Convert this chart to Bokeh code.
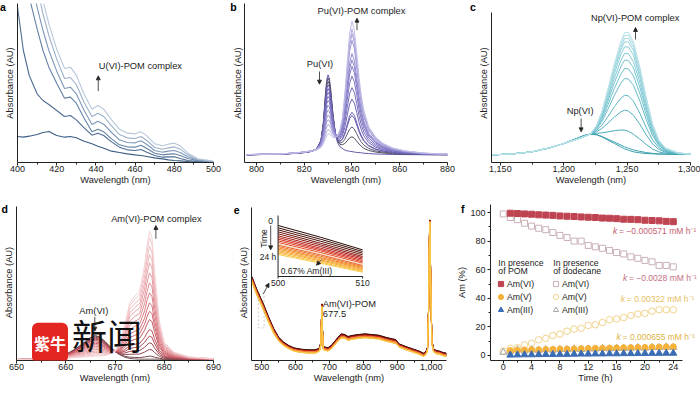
import numpy as np
from bokeh.plotting import figure
from bokeh.layouts import row, column
from bokeh.models import (Label, Arrow, NormalHead, FixedTicker, NumeralTickFormatter,
                          Range1d, BoxAnnotation, Legend, LegendItem)
from bokeh.embed import file_html
from bokeh.resources import INLINE

FONT = "Liberation Sans"
AX = "#222222"
TXT = "9.3px"

# ---------------- panel a : U(VI) ----------------
a_wavelength = [400, 403, 406, 410, 413, 416, 420, 424, 427, 430, 434, 438, 441, 444,
                448, 452, 456, 460, 463, 466, 470, 474, 477, 480, 483, 487, 492, 500]
a_spectra = [
    [78, 76, 79, 84, 90, 93, 81, 76, 78, 74, 64, 56, 49, 43, 34, 30, 26, 23, 21, 18, 14, 11, 8, 6, 5, 3, 2, 1],
    [466, 336, 261, 206, 186, 174, 156, 138, 141, 128, 104, 82, 88, 81, 62, 46, 38, 36, 39, 31, 21, 16, 17, 17, 12, 6, 3, 1],
    [726, 596, 496, 401, 336, 286, 238, 193, 196, 178, 133, 92, 100, 92, 71, 53, 47, 46, 52, 42, 28, 23, 25, 26, 21, 12, 5, 1],
    [826, 696, 586, 466, 396, 336, 274, 222, 226, 206, 156, 114, 124, 115, 90, 68, 60, 59, 65, 54, 36, 31, 34, 36, 30, 17, 7, 2],
    [916, 786, 666, 526, 446, 381, 310, 252, 255, 234, 180, 138, 148, 138, 110, 84, 74, 72, 78, 66, 45, 40, 44, 47, 40, 23, 9, 3],
    [1006, 866, 736, 576, 486, 416, 340, 282, 286, 262, 205, 160, 171, 160, 128, 100, 88, 86, 92, 80, 56, 50, 55, 58, 50, 28, 11, 4],
]
a_colors = ["#3e5d85", "#4e6c93", "#6481a6", "#7d97b8", "#9bb0c9", "#b8c8da"]
a_ticks = [400, 420, 440, 460, 480, 500]
a_minor = [410, 430, 450, 470, 490]

# ---------------- panel b : Pu(VI) ----------------
b_wavelength = [796, 805, 812, 818, 822, 825, 827, 828, 829, 829.5, 830, 830.5, 831, 832, 833, 834,
                835, 836, 837, 838, 839, 840, 841, 842, 843, 844, 845, 847, 850, 853, 857, 862, 870, 880]
b_pu6_band = [0, 0.005, 0.01, 0.02, 0.035, 0.06, 0.18, 0.4, 0.8, 0.95, 1.0, 0.96, 0.85, 0.52, 0.27, 0.15,
              0.1, 0.08, 0.06, 0.05, 0.045, 0.04, 0.035, 0.03, 0.028, 0.025, 0.02, 0.016, 0.01, 0.008,
              0.005, 0.003, 0.001, 0]
b_complex_band = [0.002, 0.005, 0.008, 0.015, 0.022, 0.03, 0.037, 0.042, 0.048, 0.052, 0.056, 0.06, 0.065,
                  0.078, 0.1, 0.13, 0.18, 0.27, 0.45, 0.68, 0.9, 1.0, 0.93, 0.76, 0.57, 0.43, 0.33, 0.21,
                  0.13, 0.085, 0.052, 0.03, 0.013, 0.005]
b_pu6_heights = [240, 228, 216, 204, 192, 178, 164, 150, 134, 118, 102, 86, 70, 54, 40]
b_complex_heights = [0, 45, 75, 110, 120, 160, 195, 230, 260, 280, 300, 340, 360, 375, 400]
b_baseline = 23
b_colors = ["#6459ad", "#4f4f60", "#5a5870", "#665db0", "#6b61b4", "#7066b8", "#766cbc", "#7c73c1",
            "#837bc6", "#8b84cb", "#948dd0", "#9d97d4", "#a8a3da", "#b4b0e0", "#c1bee7"]
b_ticks = [800, 820, 840, 860, 880]
b_minor = [810, 830, 850, 870]

# ---------------- panel c : Np(VI) ----------------
c_wavelength = [1143, 1150, 1160, 1175, 1190, 1200, 1210, 1216, 1221, 1226, 1230, 1235, 1240, 1245,
                1248, 1251, 1255, 1260, 1265, 1270, 1275, 1280, 1290, 1300]
c_first = [23, 24, 26, 32, 45, 57, 72, 81, 85, 83, 77, 67, 57, 47, 41, 37, 32, 29, 27, 26, 25, 25, 24, 24]
c_last = [23, 24, 26, 32, 45, 57, 69, 77, 85, 112, 152, 222, 297, 362, 390, 390, 362, 287, 197, 117, 67, 44, 29, 25]
c_peak_heights = [41, 47, 97, 157, 202, 252, 282, 307, 327, 347, 362, 372, 382, 390]
c_colors = ["#3a9cac", "#41a2b2", "#49a8b8", "#52aebd", "#5bb4c2", "#64b9c7", "#6ebfcc", "#78c4d0",
            "#82c9d4", "#8cced8", "#97d3dc", "#a2d8e0", "#addde4", "#b8e2e8"]
c_ticks = [1150, 1200, 1250, 1300]
c_minor = [1175, 1225, 1275]

# ---------------- panel d : Am(VI) ----------------
d_wavelength = [650, 655, 658, 660, 662, 664, 665, 666, 667, 668, 669, 670, 671, 672, 673, 674, 675,
                676, 676.5, 677, 677.5, 678, 679, 680, 682, 685, 690]
d_first = [3, 4, 9, 18, 35, 57, 69, 75, 70, 57, 41, 27, 17, 10, 6, 5, 4, 4, 4, 4, 4, 4, 4, 3, 3, 3, 3]
d_last = [3, 4, 5, 7, 9, 11, 12, 13, 14, 15, 19, 28, 53, 108, 173, 193, 208, 283, 343, 388, 368, 273,
          118, 53, 25, 11, 5]
d_peak_heights = [4, 13, 33, 53, 73, 93, 123, 148, 173, 203, 233, 263, 293, 318, 343, 368, 388]
d_colors = ["#6e5555", "#7a4a4e", "#8c4750", "#9e4652", "#b04a56", "#bd505c", "#c65a65", "#ce656f",
            "#d4707a", "#da7d86", "#df8a92", "#e3979e", "#e7a4aa", "#ebb1b6", "#eebdc1", "#f1c8cb", "#f4d2d4"]
d_ticks = [650, 660, 670, 680, 690]
d_minor = [655, 665, 675, 685]

# ---------------- panel e : Am(VI)-POM over 24 h ----------------
e_wavelength = [471, 485, 505, 520, 535, 550, 565, 580, 595, 610, 625, 640, 655, 666, 671, 674.5, 676,
                677.5, 679, 682, 695, 705, 715, 725, 735, 745, 755, 765, 785, 805, 825, 845, 865, 885,
                895, 905, 925, 945, 965, 977, 985, 989, 992, 994, 995.5, 997, 999, 1002, 1007, 1015,
                1025, 1035, 1045]
e_start = [252, 215, 170, 132, 97, 70, 55, 45, 38, 35, 33, 32, 32, 35, 40, 55, 115, 170, 100, 42, 38, 45,
           57, 70, 80, 78, 72, 75, 78, 80, 78, 76, 70, 65, 63, 50, 42, 35, 28, 22, 28, 40, 150, 330,
           422, 360, 200, 60, 35, 30, 28, 24, 22]
e_end = [235, 198, 152, 115, 82, 58, 44, 35, 28, 25, 23, 22, 22, 24, 30, 45, 105, 160, 90, 32, 28, 34,
         46, 58, 67, 66, 60, 63, 66, 68, 66, 64, 58, 53, 51, 40, 32, 25, 18, 12, 18, 30, 140, 320,
         415, 352, 192, 50, 25, 20, 18, 14, 12]
e_inset_wavelength = [500, 505, 510]
e_inset_500 = [153, 146, 140, 134, 128, 122, 117, 112, 107, 102, 98, 94, 90, 86, 82, 78, 74, 70, 66]
e_inset_505 = [118, 112, 106, 100, 95, 90, 85, 81, 77, 72, 68, 65, 61, 57, 54, 50, 47, 43, 40]
e_inset_510 = [80, 75, 70, 65, 60, 56, 52, 48, 44, 40, 36, 33, 30, 27, 24, 21, 18, 15, 13]
e_colors = ["#2a0c06", "#3d0f08", "#531109", "#6b130c", "#8a1610", "#a81c16", "#c0241c", "#d22e1e",
            "#dc3b1f", "#e44d20", "#f3d9c8", "#ea6322", "#ee7424", "#f18526", "#f39428", "#f5a22c",
            "#f7b032", "#f8bd3c", "#f9c94a"]
e_ticks = [500, 600, 700, 800, 900, 1000]
e_minor = [550, 650, 750, 850, 950]
e_inset_ticks = [500, 510]

# ---------------- panel f : Am kinetics ----------------
f_hours_pom = [1, 2, 3, 4, 5, 6, 7, 8, 9, 10, 11, 12, 13, 14, 15, 16, 17, 18, 19, 20, 21, 22, 23, 24]
f_hours_dod = [0, 1, 2, 3, 4, 5, 6, 7, 8, 9, 10, 11, 12, 13, 14, 15, 16, 17, 18, 19, 20, 21, 22, 23, 24]
f_am6_pom = [99.5, 99.3, 99.0, 98.8, 98.4, 98.2, 98.0, 97.6, 97.4, 97.2, 96.9, 96.7, 96.5, 96.1, 96.0,
             95.7, 95.3, 95.2, 95.0, 94.6, 94.4, 94.2, 93.8, 93.6]
f_am5_pom = [3.4, 3.7, 3.8, 4.0, 4.0, 4.2, 4.3, 4.5, 4.5, 4.6, 4.8, 4.9, 5.0, 5.0, 5.2, 5.3, 5.4, 5.5,
             5.6, 5.6, 5.8, 5.9, 6.0, 6.1]
f_am3_pom = [0.3, 0.4, 0.5, 0.5, 0.6, 0.7, 0.7, 0.8, 0.8, 0.9, 1.0, 1.0, 1.1, 1.1, 1.2, 1.2, 1.3, 1.3,
             1.4, 1.4, 1.5, 1.5, 1.6, 1.6]
f_am6_dod = [99, 96.5, 95, 92.5, 90.5, 89, 88, 86, 84, 82.5, 80, 80, 77, 76, 75, 73.5, 72, 71, 69, 68,
             66.5, 65.5, 63, 63, 62]
f_am5_dod = [3, 5, 5.5, 7.5, 8.5, 11, 12, 14, 15, 17, 18.5, 19, 21, 21.5, 23, 25, 25.5, 26.5, 28, 29,
             29.5, 31, 32, 32, 32]
f_am3_dod = [2.3, 3.0, 4.0, 3.2, 4.0, 3.6, 4.1, 3.7, 4.2, 4.1, 4.6, 4.2, 4.6, 4.5, 5.0, 4.6, 5.1, 5.0,
             5.1, 5.5, 5.1, 5.6, 5.5, 6.0, 5.6]
f_xticks = [0, 4, 8, 12, 16, 20, 24]
f_xminor = [2, 6, 10, 14, 18, 22]
f_yticks = [0, 20, 40, 60, 80, 100]
f_yminor = [10, 30, 50, 70, 90]
f_rates = ["= \u22120.000571 mM h\u207b\u00b9", "= \u22120.0028 mM h\u207b\u00b9",
           "= 0.00322 mM h\u207b\u00b9", "= 0.000655 mM h\u207b\u00b9"]


def make_fig(w, h, xr, yr, lb, rb, tb, bb, xticks, xminor, xlabel, ylabel,
             yticks=None, yminor=None, fmt=None):
    p = figure(width=w, height=h, x_range=Range1d(*xr), y_range=Range1d(*yr), title=None,
               output_backend="svg", toolbar_location=None,
               border_fill_color=None, background_fill_color=None,
               min_border_left=lb, min_border_right=rb, min_border_top=tb, min_border_bottom=bb)
    p.outline_line_color = None
    p.xgrid.visible = False
    p.ygrid.visible = False
    for ax in (p.xaxis[0], p.yaxis[0]):
        ax.axis_line_color = AX
        ax.axis_line_width = 1
        ax.major_tick_line_color = AX
        ax.minor_tick_line_color = AX
        ax.major_tick_in = 0
        ax.minor_tick_in = 0
        ax.major_tick_out = 3
        ax.minor_tick_out = 2
        ax.major_label_text_font = FONT
        ax.major_label_text_font_size = "9px"
        ax.major_label_text_color = AX
        ax.axis_label_text_font = FONT
        ax.axis_label_text_font_size = TXT
        ax.axis_label_text_font_style = "normal"
        ax.axis_label_text_color = AX
        ax.major_label_standoff = 2
    xa = p.xaxis[0]
    xa.ticker = FixedTicker(ticks=xticks, minor_ticks=xminor)
    xa.axis_label = xlabel
    xa.major_label_standoff = 0
    xa.axis_label_standoff = 0
    if fmt is not None:
        xa.formatter = fmt
    ya = p.yaxis[0]
    ya.axis_label = ylabel
    if yticks is None:
        ya.ticker = FixedTicker(ticks=[])
        ya.major_tick_out = 0
        ya.minor_tick_out = 0
        ya.axis_label_standoff = 3
    else:
        ya.ticker = FixedTicker(ticks=yticks, minor_ticks=yminor)
        ya.axis_label_standoff = 0
    return p


def text(p, x, y, s, size=TXT, align="center", baseline="middle", color=AX, style="normal",
         font=FONT, **kw):
    p.add_layout(Label(x=x, y=y, text=s, text_font=font, text_font_size=size, text_align=align,
                       text_baseline=baseline, text_color=color, text_font_style=style, **kw))


def letter(p, x, y, s, side):
    # panel letter sits outside the frame: give it to a side panel with spare room
    p.add_layout(Label(x=x, y=y, text=s, text_font=FONT, text_font_size="10.5px",
                       text_font_style="bold", text_align="center", text_baseline="middle",
                       text_color="black"), side)


def arrow(p, x0, y0, x1, y1, **kw):
    p.add_layout(Arrow(end=NormalHead(size=4, line_color=AX, fill_color=AX, line_width=0.8),
                       x_start=x0, y_start=y0, x_end=x1, y_end=y1,
                       line_color=AX, line_width=0.8, **kw))


# Frames in one row share top/bottom edges; panels whose axis is shorter use axis bounds.
# Row 1 is shifted up by 11 px (negative margin) so that its frames start near the page top.
# ---------------- a ----------------
pa = make_fig(229, 210, (400, 500), (0, 477), 17, 16, 14, 37, a_ticks, a_minor,
              "Wavelength (nm)", "Absorbance (AU)")
for spec, col in zip(a_spectra, a_colors):
    pa.line(a_wavelength, spec, line_color=col, line_width=1.1)
text(pa, 441.5, 291, "U(VI)-POM complex", align="left")
arrow(pa, 441.2, 214, 441.2, 260)
letter(pa, 392.6, 468, "a", "right")

# ---------------- b ----------------
pb = make_fig(229, 210, (795, 880), (0, 477), 14, 11, 14, 37, b_ticks, b_minor,
              "Wavelength (nm)", "Absorbance (AU)")
pb.yaxis[0].axis_label_standoff = 2
s830 = np.array(b_pu6_band)
s840 = np.array(b_complex_band)
for h830, h840, col in zip(b_pu6_heights, b_complex_heights, b_colors):
    pb.line(b_wavelength, b_baseline + h830 * s830 + h840 * s840, line_color=col, line_width=1.0)
text(pb, 844, 454, "Pu(VI)-POM complex")
arrow(pb, 842.1, 397, 842.1, 433)
text(pb, 826.6, 296, "Pu(VI)")
arrow(pb, 826.4, 273, 826.4, 235)
letter(pb, 790.4, 468, "b", "right")

# ---------------- c ----------------
pc = make_fig(242, 210, (1143, 1300), (0, 477), 33, 10, 14, 37, c_ticks, c_minor,
              "Wavelength (nm)", "Absorbance (AU)", fmt=NumeralTickFormatter(format="0,0"))
pc.yaxis[0].bounds = (0, 450)
cf = np.array(c_first, dtype=float)
cl = np.array(c_last, dtype=float)
for pk, col in zip(c_peak_heights, c_colors):
    w = (pk - c_first[14]) / (c_last[14] - c_first[14])
    pc.line(c_wavelength, (1 - w) * cf + w * cl, line_color=col, line_width=1.0)
text(pc, 1256.3, 435, "Np(VI)-POM complex")
arrow(pc, 1256.6, 369, 1256.6, 405)
text(pc, 1212.9, 156, "Np(VI)")
arrow(pc, 1213.7, 132, 1213.7, 92)
letter(pc, 1128.4, 468, "c", "right")

# Row 2 starts 9 px inside the bottom of row 1 (transparent canvases).
# ---------------- d ----------------
pd_ = make_fig(229, 204, (650, 690), (0, 468), 15, 16, 14, 34, d_ticks, d_minor,
               "Wavelength (nm)", "Absorbance (AU)")
pd_.yaxis[0].bounds = (0, 463)
df = np.array(d_first, dtype=float)
dl = np.array(d_last, dtype=float)
for pk, col in zip(d_peak_heights, d_colors):
    w = (pk - d_first[19]) / (d_last[19] - d_first[19])
    pd_.line(d_wavelength, (1 - w) * df + w * dl, line_color=col, line_width=1.0)
text(pd_, 678.4, 424, "Am(VI)-POM complex")
arrow(pd_, 678.3, 365, 678.3, 405)
text(pd_, 665.7, 148, "Am(VI)")
arrow(pd_, 665.9, 131, 665.9, 88)
letter(pd_, 647.6, 456, "d", "right")
# watermark present on the reference image (kept inside the frame)
pd_.add_layout(Label(x=656.8, y=53, text="紫牛", text_font="Noto Sans CJK SC", text_font_size="16px",
                     text_font_style="bold", text_color="white", text_align="center",
                     text_baseline="middle", background_fill_color="#e3261f", border_radius=6,
                     padding=dict(left=2, right=2, top=8, bottom=8)))
text(pd_, 668.4, 1, "新闻", size="35px", font="Noto Sans CJK SC", color="#111111",
     baseline="bottom")

# ---------------- e ----------------
pe = make_fig(221, 204, (470, 1045), (0, 468), 21, 4, 14, 34, e_ticks, e_minor,
              "Wavelength (nm)", "Absorbance (AU)", fmt=NumeralTickFormatter(format="0,0"))
pe.yaxis[0].bounds = (0, 460)
pe.extra_x_ranges = {"ix": Range1d(496.86, 519.92)}
pe.extra_y_ranges = {"iy": Range1d(-252, 216)}
es = np.array(e_start, dtype=float)
ee = np.array(e_end, dtype=float)
i0 = e_inset_500[0]
i1 = e_inset_500[-1]
for k, col in enumerate(e_colors):
    w = (i0 - e_inset_500[k]) / (i0 - i1)
    pe.line(e_wavelength, (1 - w) * es + w * ee, line_color=col, line_width=1.0)
for k, col in enumerate(e_colors):
    pe.line(e_inset_wavelength, [e_inset_500[k], e_inset_505[k], e_inset_510[k]],
            line_color=col, line_width=1.0, x_range_name="ix", y_range_name="iy")
# inset axes
pe.line([e_inset_ticks[0], e_inset_ticks[0]], [183, 0], line_color=AX, line_width=1,
        x_range_name="ix", y_range_name="iy")
pe.line(e_inset_ticks, [0, 0], line_color=AX, line_width=1, x_range_name="ix", y_range_name="iy")
for t in e_inset_ticks:
    pe.line([t, t], [0, -6], line_color=AX, line_width=1, x_range_name="ix", y_range_name="iy")
    text(pe, t, -10, str(t), size="8.5px", baseline="top", x_range_name="ix", y_range_name="iy")
text(pe, 498.35, 114, "Time", size="8.5px", angle=np.pi / 2, x_range_name="ix", y_range_name="iy")
text(pe, 499.13, 166, "0", size="8.5px", x_range_name="ix", y_range_name="iy")
arrow(pe, 499.13, 153, 499.13, 80, x_range_name="ix", y_range_name="iy")
text(pe, 498.82, 58, "24 h", size="8.5px", x_range_name="ix", y_range_name="iy")
text(pe, 500.31, 16, "0.67% Am(III)", size="8.5px", align="left", x_range_name="ix", y_range_name="iy")
arrow(pe, 505.18, 51, 504.54, 34, x_range_name="ix", y_range_name="iy")
pe.add_layout(BoxAnnotation(left=490, right=507, bottom=98, top=200, fill_alpha=0,
                            line_color="#555555", line_dash="2 2", line_width=1))
arrow(pe, 505, 200, 521.7, 232)
text(pe, 680.3, 170, "Am(VI)-POM", align="left")
text(pe, 680.3, 140, "677.5", align="left")
letter(pe, 426, 451, "e", "left")

# ---------------- f ----------------
# frame runs to the right edge so that the rate labels are not cut; the axis line stops at 25.3
pf = make_fig(250, 204, (-1.8, 27.84), (-3.5, 105.6), 40, 0, 14, 34, f_xticks, f_xminor,
              "Time (h)", "Am (%)", yticks=f_yticks, yminor=f_yminor)
pf.xaxis[0].bounds = (-1.8, 25.3)
r6d = pf.scatter(f_hours_dod, f_am6_dod, marker="square", size=6, fill_color=None,
                 line_color="#c8b0b6", line_width=1)
r5d = pf.scatter(f_hours_dod, f_am5_dod, marker="circle", size=6.5, fill_color=None,
                 line_color="#f1d38c", line_width=1)
r3d = pf.scatter(f_hours_dod, f_am3_dod, marker="triangle", size=7, fill_color=None,
                 line_color="#a6a6a6", line_width=1)
r5p = pf.scatter(f_hours_pom, f_am5_pom, marker="circle", size=6, fill_color="#f4b23a",
                 line_color="#f4b23a")
r3p = pf.scatter(f_hours_pom, f_am3_pom, marker="triangle", size=7, fill_color="#3b6db5",
                 line_color="#3b6db5")
r6p = pf.scatter(f_hours_pom, f_am6_pom, marker="square", size=6, fill_color="#bf4451",
                 line_color="#bf4451")

leg_kw = dict(glyph_width=13, glyph_height=13, label_height=10, label_width=10, spacing=-1,
              padding=0, margin=0, label_standoff=0, label_text_font=FONT,
              label_text_font_size="8.7px", label_text_color=AX, border_line_color=None,
              background_fill_alpha=0)
pf.add_layout(Legend(items=[LegendItem(label="Am(VI)", renderers=[r6p]),
                            LegendItem(label="Am(V)", renderers=[r5p]),
                            LegendItem(label="Am(III)", renderers=[r3p])],
                     location=(4, 44), **leg_kw))
pf.add_layout(Legend(items=[LegendItem(label="Am(VI)", renderers=[r6d]),
                            LegendItem(label="Am(V)", renderers=[r5d]),
                            LegendItem(label="Am(III)", renderers=[r3d])],
                     location=(59, 44), **leg_kw))
text(pf, -0.7, 64.8, "In presence", size="8.7px", align="left")
text(pf, -0.7, 59.2, "of POM", size="8.7px", align="left")
text(pf, 7.06, 64.8, "In presence", size="8.7px", align="left")
text(pf, 7.06, 59.2, "of dodecane", size="8.7px", align="left")

rate_pos_x = [15.5, 16.9, 16.6, 16.0]
rate_pos_y = [87.2, 54.5, 39.7, 12.6]
rate_colors = ["#c4606e", "#c4707f", "#e6c062", "#deb246"]
for rx, ry, rs, rc in zip(rate_pos_x, rate_pos_y, f_rates, rate_colors):
    text(pf, rx, ry, "k", size="8.5px", align="left", color=rc, style="italic")
    text(pf, rx, ry, rs, size="8.5px", align="left", color=rc, x_offset=6)
letter(pf, -5.72, 102.3, "f", "left")

row1 = row(pa, pb, pc, margin=(-11, 0, 0, 0))
row2 = row(pd_, pe, pf, margin=(-9, 0, 0, 0))
layout = column(row1, row2)
open("out.html", "w").write(file_html(layout, INLINE))
